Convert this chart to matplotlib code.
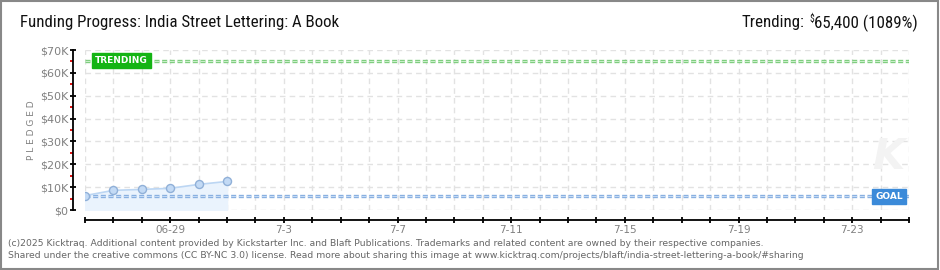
import matplotlib
matplotlib.use("Agg")
import matplotlib.pyplot as plt
import matplotlib.dates as mdates
from matplotlib.patches import Rectangle
from matplotlib.ticker import MultipleLocator, FixedLocator, FuncFormatter
from matplotlib import font_manager
import datetime as dt

# ---- data ----
dates = ["2025-06-26", "2025-06-27", "2025-06-28", "2025-06-29", "2025-06-30", "2025-07-01"]
pledged = [6300, 8600, 9000, 9500, 11200, 12500]
goal = 6000
trending = 65400
x_start = "2025-06-26"
x_end = "2025-07-25"
label_dates = ["2025-06-29", "2025-07-03", "2025-07-07", "2025-07-11", "2025-07-15", "2025-07-19", "2025-07-23"]
label_texts = ["06-29", "7-3", "7-7", "7-11", "7-15", "7-19", "7-23"]
y_max = 70000

title = "Funding Progress: India Street Lettering: A Book"
footer1 = "(c)2025 Kicktraq. Additional content provided by Kickstarter Inc. and Blaft Publications. Trademarks and related content are owned by their respective companies."
footer2 = "Shared under the creative commons (CC BY-NC 3.0) license. Read more about sharing this image at www.kicktraq.com/projects/blaft/india-street-lettering-a-book/#sharing"

to_d = lambda s: dt.datetime.strptime(s, "%Y-%m-%d")
xd = [to_d(s) for s in dates]
x0, x1 = to_d(x_start), to_d(x_end)

installed = {f.name for f in font_manager.fontManager.ttflist}
cands = ["Roboto Condensed", "Liberation Sans Narrow", "DejaVu Sans Condensed", "Roboto"]
narrow = [c for c in cands if c in installed][:1] or ["DejaVu Sans"]
fnt = narrow + ["DejaVu Sans"]

W, H = 940, 270
fig = plt.figure(figsize=(W / 100, H / 100), dpi=100)
fig.patch.set_facecolor("white")

ax = fig.add_axes([85 / W, 1 - 210 / H, (909 - 85) / W, 160 / H])
ax.set_xlim(x0, x1)
ax.set_ylim(0, y_max)

ax.yaxis.set_major_locator(MultipleLocator(10000))
ax.yaxis.set_minor_locator(MultipleLocator(5000))
ax.xaxis.set_major_locator(FixedLocator(mdates.date2num([to_d(s) for s in label_dates])))
ax.xaxis.set_minor_locator(mdates.DayLocator())
ax.set_xticklabels(label_texts)
ax.yaxis.set_major_formatter(FuncFormatter(lambda v, p: "$%dK" % (v / 1000) if v > 0 else "$0"))

gcol = "#e2e2e2"
for yv in range(0, y_max + 1, 10000):
    ax.axhline(yv, color=gcol, lw=1, ls=(0, (4, 3)), zorder=0)
d = x0
while d <= x1:
    ax.axvline(d, color=gcol, lw=1, ls=(0, (4, 3)), zorder=0)
    d += dt.timedelta(days=1)

for s in ["top", "right"]:
    ax.spines[s].set_visible(False)
ax.spines["left"].set_position(("outward", 8.6))
ax.spines["bottom"].set_position(("outward", 7.2))
ax.spines["left"].set_linewidth(1.3)
ax.spines["bottom"].set_linewidth(1.3)

ax.tick_params(axis="y", which="major", direction="inout", length=5, width=1.3, color="black",
               labelsize=8, labelcolor="#808080", pad=1)
ax.tick_params(axis="y", which="minor", direction="out", length=2.5, width=1.3, color="#dd0000")
ax.tick_params(axis="x", which="both", direction="inout", length=5, width=1.3, color="black",
               labelsize=7.5, labelcolor="#808080", pad=1)

ax.set_ylabel("P L E D G E D", fontsize=6.5, color="#808080", labelpad=3)

# goal and trending lines
ax.axhline(trending, color="#7ccc7c", lw=2.4, ls=(0, (1.5, 0.8)), zorder=2)
ax.axhline(trending, color="#c8efc8", lw=0.8, ls=(0, (4.5, 2.4)), zorder=2)
ax.axhline(goal, color="#86aee0", lw=2.4, ls=(0, (1.5, 0.8)), zorder=3)
ax.axhline(goal, color="#c4daf4", lw=0.8, ls=(0, (4.5, 2.4)), zorder=3)

# series
ax.fill_between(xd, pledged, 0, color="#eaf3fd", zorder=1)
ax.plot(xd, pledged, color="#bcd6f3", lw=1.2, zorder=4)
ax.plot(xd, pledged, ls="none", marker="o", ms=5.8, mfc="#c3daf5", mec="#90b0d8", mew=1, zorder=5)

ax.annotate("TRENDING", xy=(0.0125, trending), xycoords=("axes fraction", "data"),
            ha="left", va="center", fontsize=6.5, color="white", fontweight="bold", zorder=6,
            bbox=dict(boxstyle="square,pad=0.35", fc="#14b414", ec="#14b414"))
ax.annotate("GOAL", xy=(0.993, goal), xycoords=("axes fraction", "data"),
            ha="right", va="center", fontsize=6.5, color="white", fontweight="bold", zorder=6,
            bbox=dict(boxstyle="square,pad=0.35", fc="#3b8ad9", ec="#3b8ad9"))

# faint watermark
ax.text(0.975, 0.33, "K", transform=ax.transAxes, fontsize=30, color="#f3f3f3",
        fontstyle="italic", fontweight="bold", ha="center", va="center", zorder=0)

fig.text(20 / W, 1 - 23 / H, title, fontsize=12.2, family=fnt, color="#111111", ha="left", va="center")

fig.canvas.draw()
r = fig.canvas.get_renderer()
t3 = fig.text(918 / W, 1 - 23 / H, "65,400 (1089%)", fontsize=12.2, family=fnt, color="#111111",
              ha="right", va="center")
bb = t3.get_window_extent(renderer=r)
t2 = fig.text(bb.x0 / W, 1 - 19 / H, "$", fontsize=7, family=fnt, color="#111111", ha="right", va="center")
bb2 = t2.get_window_extent(renderer=r)
fig.text((bb2.x0 - 5) / W, 1 - 23 / H, "Trending:", fontsize=12.2, family=fnt, color="#111111",
         ha="right", va="center")

fig.text(8 / W, 1 - 243 / H, footer1, fontsize=6.65, family="DejaVu Sans", color="#666666", ha="left", va="center")
fig.text(8 / W, 1 - 256 / H, footer2, fontsize=6.65, family="DejaVu Sans", color="#666666", ha="left", va="center")

fig.patches.append(Rectangle((0.001, 0.002), 0.997, 0.995, transform=fig.transFigure,
                             fill=False, ec="#888888", lw=1.5))

fig.savefig("out.png", dpi=100)
